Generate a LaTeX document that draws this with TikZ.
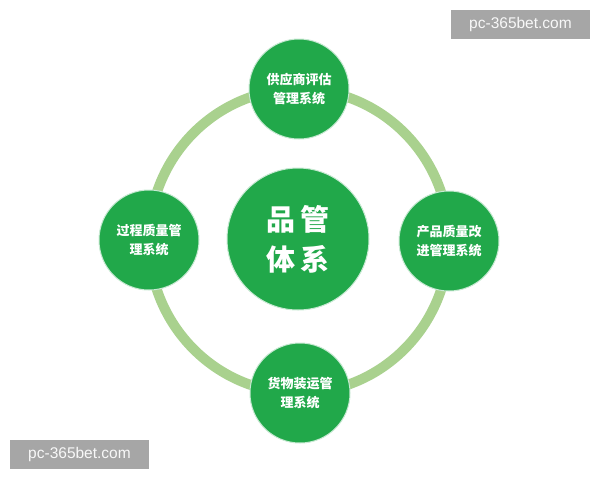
\documentclass[tikz,border=0pt]{standalone}
\usepackage{fontspec}
\setmainfont{Liberation Sans}
\newfontfamily\cjk{Noto Sans CJK SC}
\definecolor{ringgreen}{HTML}{A9D18E}
\definecolor{nodegreen}{HTML}{21A84A}
\definecolor{wmgray}{HTML}{A6A6A6}
\begin{document}
\begin{tikzpicture}[x=1pt,y=-1pt,
  smallnode/.style={circle,fill=nodegreen,draw=white!75!nodegreen,line width=1pt,minimum size=100pt,inner sep=0pt,text=white,align=center,font=\cjk\bfseries\fontsize{13}{19.5}\selectfont},
  bignode/.style={circle,fill=nodegreen,draw=white!75!nodegreen,line width=1pt,minimum size=142pt,inner sep=0pt,text=white,align=center,font=\cjk\bfseries\fontsize{29}{40}\selectfont},
  wm/.style={fill=wmgray,text=white!92!wmgray,minimum width=139pt,minimum height=29pt,inner sep=0pt,font=\fontsize{15.5}{15.5}\selectfont}]
\useasboundingbox (0,0) rectangle (600,480);
\fill[white] (0,0) rectangle (600,480);
\draw[ringgreen,line width=10pt] (299,241) ellipse [x radius=150,y radius=152];
\node[bignode] (center) at (298,239) {品\hspace{5pt}管\\体\hspace{5pt}系};
\node[smallnode] (top) at (299,89) {供应商评估\\管理系统};
\node[smallnode] (left) at (149,240) {过程质量管\\理系统};
\node[smallnode] (right) at (449,241) {产品质量改\\进管理系统};
\node[smallnode] (bottom) at (300,393) {货物装运管\\理系统};
\node[wm] (wm1) at (520.5,24.5) {pc-365bet.com};
\node[wm] (wm2) at (79.5,454.5) {pc-365bet.com};
\end{tikzpicture}
\end{document}
